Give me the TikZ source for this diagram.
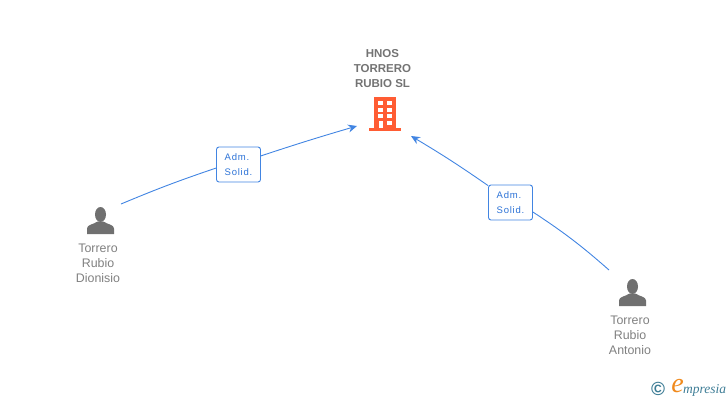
\documentclass[tikz,border=0pt]{standalone}
\usepackage{fontspec}
\setmainfont{Liberation Sans}
\newfontfamily\logofont{Liberation Serif}
\usepackage{xcolor}
\usetikzlibrary{arrows.meta}
\definecolor{linkcolor}{RGB}{66, 133, 226}
\definecolor{badgetext}{RGB}{45, 115, 215}
\definecolor{iconcolor}{RGB}{112, 112, 112}
\definecolor{labelcolor}{RGB}{128, 128, 128}
\definecolor{buildcolor}{RGB}{255, 92, 51}
\definecolor{logocolor}{RGB}{62, 125, 150}
\definecolor{logoorange}{RGB}{240, 138, 29}
\tikzset{
	link/.style={draw=linkcolor, line width=0.9pt},
	badge/.style={draw=linkcolor, fill=white, rounded corners=2.5pt, line width=0.9pt, minimum width=44pt, minimum height=35pt, inner sep=0pt, align=left, text=badgetext, font=\fontsize{9.5}{15}\selectfont\addfontfeature{LetterSpace=8}},
	personlabel/.style={text=labelcolor, align=center, font=\fontsize{12.4}{15}\selectfont},
	companylabel/.style={text=labelcolor!90!black, align=center, font=\fontsize{11.5}{15}\selectfont\bfseries},
	person/.pic={
		\fill[iconcolor] (0,-6) ellipse (5.5 and 7.5);
		\fill[iconcolor] (-13.5,13.5) -- (-13.5,8) .. controls (-13.5,4) and (-7,4) .. (-3,1) -- (3,1) .. controls (7,4) and (13.5,4) .. (13.5,8) -- (13.5,13.5) -- cycle;
	}
}
\begin{document}
\begin{tikzpicture}[x=1pt, y=-1pt]
	\useasboundingbox (0,0) rectangle (728,400);
	\node[companylabel] (company) at (382.5,68.5) {HNOS\\TORRERO\\RUBIO SL};
	% building
	\fill[buildcolor] (374,97) rectangle (396,128);
	\fill[buildcolor] (369,128) rectangle (401,131);
	\foreach \y in {101,108,114} {
		\fill[white] (378,\y) rectangle (382.5,\y+4);
		\fill[white] (387,\y) rectangle (392,\y+4);
	}
	\fill[white] (378.5,121) rectangle (382.5,128);
	\fill[white] (387,121) rectangle (392,125);
	\coordinate (companyleft) at (357,126);
	\coordinate (companyright) at (411,136);

	\pic at (100.5,220.5) {person};
	\node[personlabel] (dionisio) at (98,263) {Torrero\\Rubio\\Dionisio};
	\coordinate (dionisioout) at (121,204);
	\pic at (632.5,292.5) {person};
	\node[personlabel] (antonio) at (630,335) {Torrero\\Rubio\\Antonio};
	\coordinate (antonioout) at (609,270);

	\node[badge] (solidA) at (238.5,164.5) {Adm.\\Solid.};
	\node[badge] (solidB) at (510.5,202.5) {Adm.\\Solid.};

	\draw[link] (dionisioout) to[bend left=2] (solidA.189);
	\draw[link, -{Stealth[length=9pt, width=8pt]}] (solidA.21) to[bend left=1] (companyleft);
	\draw[link] (antonioout) to[bend right=4] (solidB.-23);
	\draw[link, -{Stealth[length=9pt, width=8pt]}] (solidB.143) to[bend right=2] (companyright);

	% logo
	\node[text=logocolor, inner sep=0pt, font=\fontsize{19}{19}\selectfont\bfseries] (copyr) at (658,389) {©};
	\node[text=logoorange, inner sep=0pt, font=\fontsize{28}{28}\selectfont\logofont\itshape] (logoe) at (677.5,386) {e};
	\node[text=logocolor, inner sep=0pt, anchor=west, font=\fontsize{13.5}{14}\selectfont\logofont\itshape] (logotext) at (683,390) {mpresia};
\end{tikzpicture}
\end{document}
